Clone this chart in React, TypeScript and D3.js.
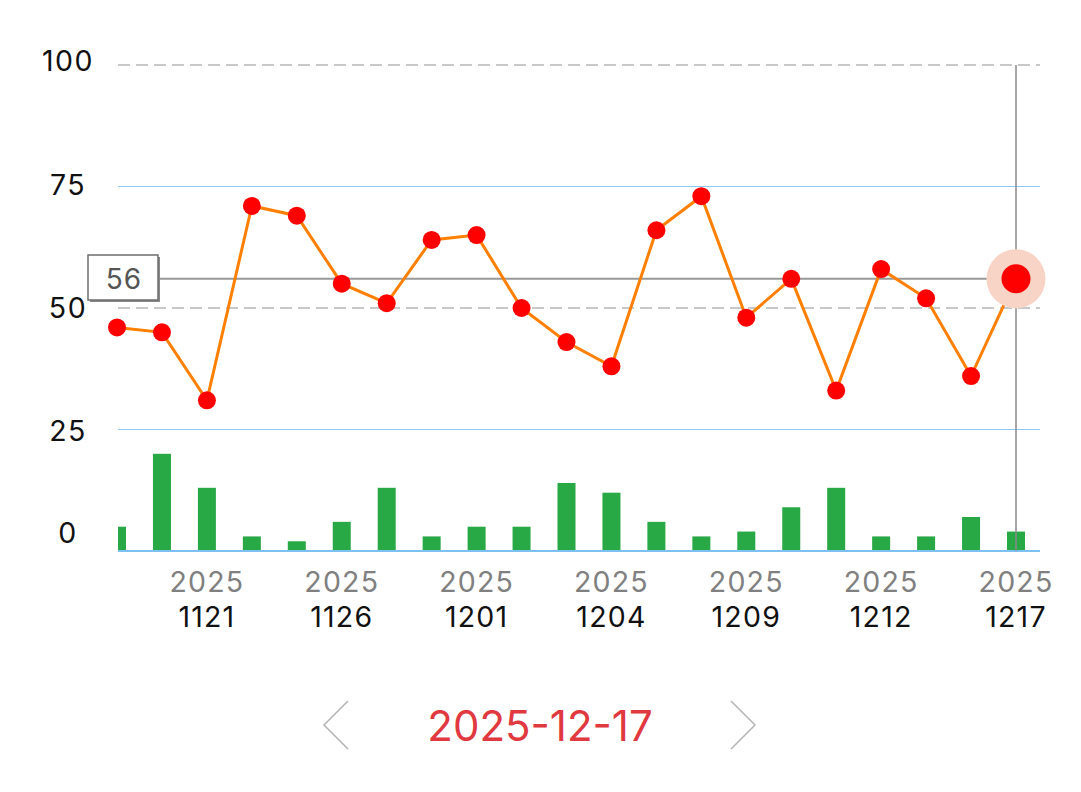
import React from "react";
import * as d3 from "d3";

const dates = ["1119","1120","1121","1124","1125","1126","1127","1128","1201","1202","1203","1204","1205","1208","1209","1210","1211","1212","1215","1216","1217"];
const lineValues = [46,45,31,71,69,55,51,64,65,50,43,38,66,73,48,56,33,58,52,36,56];
const barValues = [5,20,13,3,2,6,13,3,5,5,14,12,6,3,4,9,13,3,3,7,4];
const yTicks = [0,25,50,75,100];
const year = "2025";
const selectedIndex = 20;
const selectedDate = "2025-12-17";

const W = 1081, H = 792;
const FONT = "Inter, 'Noto Sans', sans-serif";

export default function App() {
  const plotLeft = 118, plotRight = 1040;
  const x = d3.scaleLinear().domain([0, dates.length - 1]).range([117, 1016]);
  const y = d3.scaleLinear().domain([0, 100]).range([551, 65]);
  const line = d3.line<number>().x((_, i) => x(i)).y(d => y(d));
  const barW = 18;
  const labelOffset = (v: number) => (v === 0 ? -19 : v === 100 ? -5 : v === 75 ? -2.5 : v === 50 ? -1 : 1);
  const sx = x(selectedIndex), sy = y(lineValues[selectedIndex]);

  return (
    <svg width={W} height={H} style={{ position: "absolute", left: 0, top: 0, background: "#fff" }} fontFamily={FONT}>
      <defs>
        <clipPath id="plotClip">
          <rect x={plotLeft} y={0} width={plotRight - plotLeft} height={552} />
        </clipPath>
      </defs>
      <rect width={W} height={H} fill="#fff" />
      {yTicks.map(v => {
        const dashed = v === 50 || v === 100;
        return (
          <g key={v}>
            {v !== 0 && (
              <line x1={plotLeft} x2={plotRight} y1={y(v)} y2={y(v)}
                stroke={dashed ? "#c8c8c8" : "#8fcaf4"} strokeWidth={dashed ? 2 : 1.2}
                strokeDasharray={dashed ? "12 6" : undefined} />
            )}
            <text x={68} y={y(v) + labelOffset(v)} textAnchor="middle" dominantBaseline="central" fontSize={28.5} letterSpacing={1.5} fill="#111">{v}</text>
          </g>
        );
      })}
      <g clipPath="url(#plotClip)">
        {barValues.map((v, i) => (
          <rect key={i} x={x(i) - barW / 2} y={y(v)} width={barW} height={y(0) - y(v)} fill="#29a846" />
        ))}
      </g>
      <line x1={plotLeft} x2={plotRight} y1={y(0)} y2={y(0)} stroke="#7dc0f2" strokeWidth={2} />
      {dates.map((d, i) => (i % 3 === 2 ? (
        <g key={d}>
          <text x={x(i)} y={592} textAnchor="middle" fontSize={28.5} letterSpacing={1.2} fill="#808080">{year}</text>
          <text x={x(i)} y={627} textAnchor="middle" fontSize={28.5} letterSpacing={1.2} fill="#111">{d}</text>
        </g>
      ) : null))}
      {/* crosshair */}
      <line x1={sx} x2={sx} y1={y(100)} y2={y(0)} stroke="#8a8a8a" strokeWidth={1.5} />
      <line x1={159} x2={sx} y1={sy} y2={sy} stroke="#999" strokeWidth={2} />
      <path d={line(lineValues) || ""} fill="none" stroke="#ff8000" strokeWidth={3} />
      {lineValues.map((v, i) => i === selectedIndex ? null : (
        <circle key={i} cx={x(i)} cy={y(v)} r={9} fill="#ff0000" />
      ))}
      <circle cx={sx} cy={sy} r={29.5} fill="#f8d4c6" />
      <circle cx={sx} cy={sy} r={14.5} fill="#ff0000" />
      {/* value label box */}
      <rect x={90} y={257} width={70} height={45} fill="#888" />
      <rect x={88} y={255} width={70} height={45} fill="#fff" stroke="#6e6e6e" strokeWidth={1.5} />
      <text x={124} y={279} textAnchor="middle" dominantBaseline="central" fontSize={28} letterSpacing={1} fill="#555">{lineValues[selectedIndex]}</text>
      {/* bottom navigation */}
      <polyline points="348,701 324,725 348,749" fill="none" stroke="#b4b4b4" strokeWidth={1.5} />
      <polyline points="731,701 755,725 731,749" fill="none" stroke="#b4b4b4" strokeWidth={1.5} />
      <text x={540} y={741} textAnchor="middle" fontSize={42} fill="#e0393f">{selectedDate}</text>
    </svg>
  );
}
